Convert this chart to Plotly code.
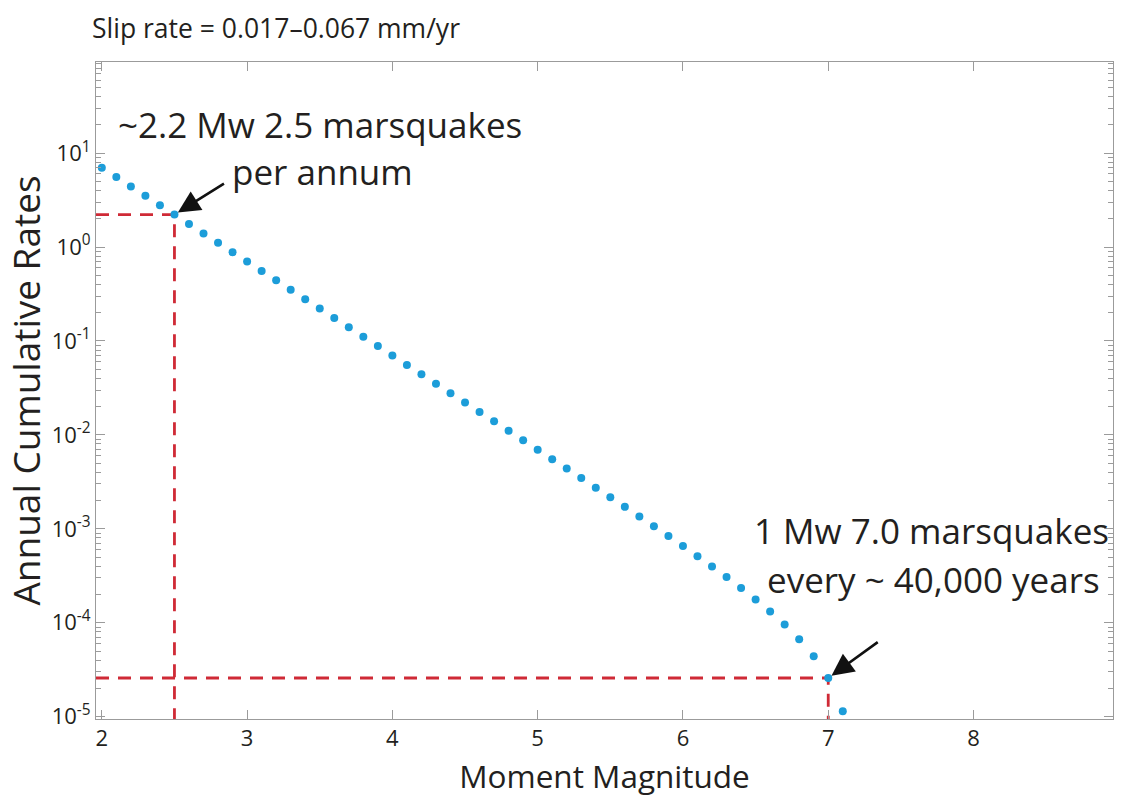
import math
import plotly.graph_objects as go

# ---- data ----
magnitude = [2.0, 2.1, 2.2, 2.3, 2.4, 2.5, 2.6, 2.7, 2.8, 2.9,
             3.0, 3.1, 3.2, 3.3, 3.4, 3.5, 3.6, 3.7, 3.8, 3.9,
             4.0, 4.1, 4.2, 4.3, 4.4, 4.5, 4.6, 4.7, 4.8, 4.9,
             5.0, 5.1, 5.2, 5.3, 5.4, 5.5, 5.6, 5.7, 5.8, 5.9,
             6.0, 6.1, 6.2, 6.3, 6.4, 6.5, 6.6, 6.7, 6.8, 6.9,
             7.0, 7.1]
annual_rate = [7.00, 5.56, 4.417, 3.508, 2.787, 2.214, 1.758, 1.397, 1.109, 0.881,
               0.700, 0.556, 0.4417, 0.3508, 0.2787, 0.2214, 0.1758, 0.1397, 0.1109, 0.0881,
               0.06996, 0.05556, 0.04413, 0.03504, 0.02783, 0.02210, 0.01754, 0.01393, 0.01105, 0.00877,
               6.956e-3, 5.516e-3, 4.373e-3, 3.464e-3, 2.743e-3, 2.170e-3, 1.714e-3, 1.353e-3, 1.065e-3, 0.837e-3,
               6.558e-4, 5.118e-4, 3.975e-4, 3.066e-4, 2.345e-4, 1.772e-4, 1.316e-4, 0.955e-4, 0.667e-4, 0.439e-4,
               2.58e-5, 1.14e-5]
highlight_mag = [2.5, 7.0]

x_ticks = [2, 3, 4, 5, 6, 7, 8]
x_ticklabels = ["2", "3", "4", "5", "6", "7", "8"]
y_exponents = [1, 0, -1, -2, -3, -4, -5]
y_ticklabels = ["10<sup>1</sup>", "10<sup>0</sup>", "10<sup>-1</sup>", "10<sup>-2</sup>",
                "10<sup>-3</sup>", "10<sup>-4</sup>", "10<sup>-5</sup>"]

title_text = "Slip rate = 0.017\u20130.067 mm/yr"
note1 = ["~2.2 Mw 2.5 marsquakes", "per annum"]
note2 = ["1 Mw 7.0 marsquakes", "every ~ 40,000 years"]

# ---- layout constants ----
X_RANGE = [1.96, 8.96]
Y_RANGE = [-5.025, 1.97]
FONT = "Open Sans, Noto Sans, sans-serif"
TXT = "#231f20"
AX = "#9b9b9b"
DOT = "#1c9dd9"
RED = "#cf2a36"

fig = go.Figure()

for m in highlight_mag:
    r = annual_rate[magnitude.index(m)]
    fig.add_trace(go.Scatter(
        x=[X_RANGE[0], m, m], y=[r, r, 10 ** Y_RANGE[0]],
        mode="lines", line=dict(color=RED, width=2.8, dash="13px,9px"),
        hoverinfo="skip", showlegend=False))

fig.add_trace(go.Scatter(
    x=magnitude, y=annual_rate, mode="markers",
    marker=dict(color=DOT, size=8, line=dict(width=0)),
    showlegend=False))

minor_vals = [k * 10.0 ** e for e in range(-6, 2) for k in range(2, 10)]

fig.update_xaxes(
    range=X_RANGE, tickvals=x_ticks, ticktext=x_ticklabels,
    ticks="inside", ticklen=9, tickcolor=AX, tickwidth=1,
    showline=True, linecolor=AX, linewidth=1, mirror="allticks",
    showgrid=False, zeroline=False,
    tickfont=dict(family=FONT, size=22, color=TXT),
    title=dict(text="Moment Magnitude", font=dict(family=FONT, size=31.5, color=TXT), standoff=14),
)
fig.update_yaxes(
    type="log", range=Y_RANGE,
    tickvals=[10.0 ** e for e in y_exponents], ticktext=y_ticklabels,
    ticks="inside", ticklen=9, tickcolor=AX, tickwidth=1,
    minor=dict(tickvals=minor_vals, ticks="inside", ticklen=5, tickcolor=AX, showgrid=False),
    showline=True, linecolor=AX, linewidth=1, mirror="allticks",
    showgrid=False, zeroline=False,
    tickfont=dict(family=FONT, size=22, color=TXT),
    title=dict(text="Annual Cumulative Rates", font=dict(family=FONT, size=37, color=TXT), standoff=4),
)

W, H = 1121, 802
L, R, T, B = 96, 8, 62, 83
PW, PH = W - L - R, H - T - B


def px(xp):
    return (xp - L) / PW


def py(yp):
    return 1 - (yp - T) / PH


anns = [
    dict(text=title_text, x=px(90), y=py(28), xanchor="left", yanchor="middle",
         font=dict(size=26.5)),
    dict(text=note1[0], x=px(320), y=py(124), xanchor="center", yanchor="middle",
         font=dict(size=35)),
    dict(text=note1[1], x=px(322), y=py(171), xanchor="center", yanchor="middle",
         font=dict(size=35)),
    dict(text=note2[0], x=px(931), y=py(530), xanchor="center", yanchor="middle",
         font=dict(size=35)),
    dict(text=note2[1], x=px(933), y=py(579), xanchor="center", yanchor="middle",
         font=dict(size=35)),
]
for a in anns:
    a.update(xref="paper", yref="paper", showarrow=False)
    a["font"].update(family=FONT, color=TXT)
    fig.add_annotation(**a)

arrow_tails = [(51, -32), (51, -37)]
for m, (dx, dy) in zip(highlight_mag, arrow_tails):
    r = annual_rate[magnitude.index(m)]
    fig.add_annotation(x=m, y=math.log10(r), xref="x", yref="y", text="", showarrow=True,
                       ax=dx, ay=dy, arrowhead=2, arrowsize=1.7, arrowwidth=2.6,
                       arrowcolor="#111111", standoff=4)

fig.update_layout(
    width=W, height=H, margin=dict(l=L, r=R, t=T, b=B),
    paper_bgcolor="white", plot_bgcolor="white",
    font=dict(family=FONT, color=TXT),
)

fig.write_html("out.html")
